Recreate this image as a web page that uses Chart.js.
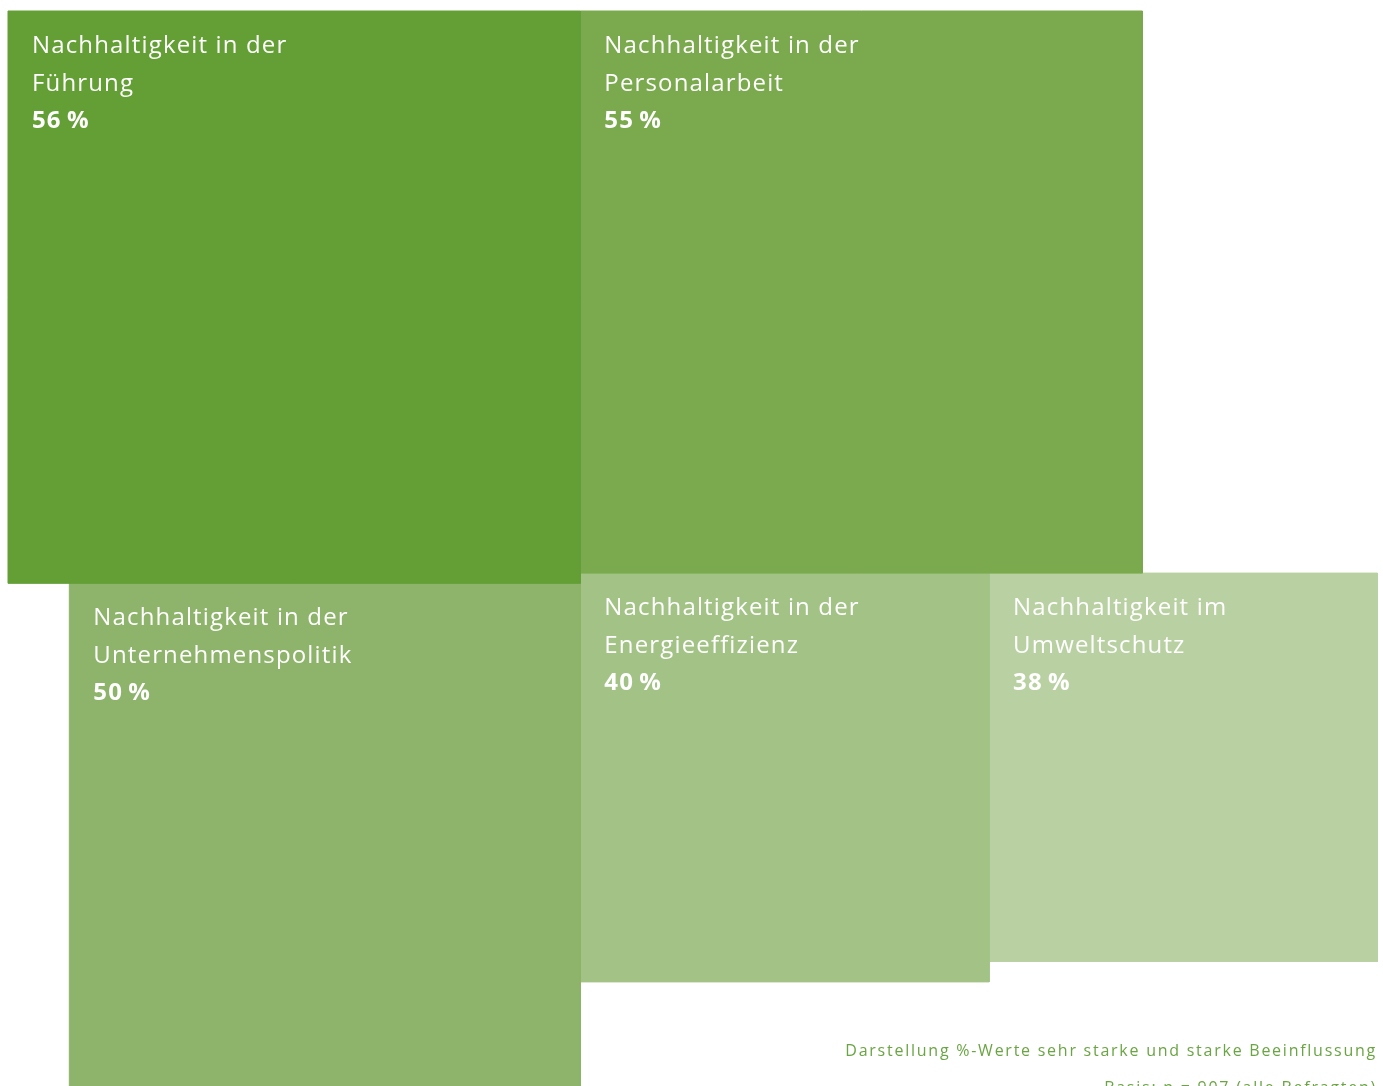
<!DOCTYPE html>
<html>
<head>
<meta charset="utf-8">
<script src="https://cdn.jsdelivr.net/npm/chart.js@4.4.1/dist/chart.umd.min.js"></script>
<style>
    html, body { margin: 0; padding: 0; background: #ffffff; overflow: hidden; }
    #wrap { position: relative; width: 1383px; height: 1086px; }
    #note {
        position: absolute; right: 6px; top: 1032px;
        font-family: "Open Sans", sans-serif; font-size: 16px; line-height: 37px;
        color: #6aa543; text-align: right; letter-spacing: 1.75px;
    }
</style>
</head>
<body>
<div id="wrap">
    <canvas id="chart-area"></canvas>
    <div id="note">Darstellung %-Werte sehr starke und starke Beeinflussung<br>Basis: n = 907 (alle Befragten)</div>
</div>
<script>
// topics and their share of "sehr stark / stark"
var topics = [
    ["Nachhaltigkeit in der", "Führung"],
    ["Nachhaltigkeit in der", "Personalarbeit"],
    ["Nachhaltigkeit in der", "Unternehmenspolitik"],
    ["Nachhaltigkeit in der", "Energieeffizienz"],
    ["Nachhaltigkeit im", "Umweltschutz"]
];
var shares = [56, 55, 50, 40, 38];
var boxColors = ['#649f36', '#7aaa4d', '#8eb36a', '#a3c386', '#b9d1a2'];

// square side = share; place them around the biggest one
function layout() {
    var s = shares;
    return [
        { left: 0, top: 0 },
        { left: s[0], top: 0 },
        { left: s[0] - s[2], top: s[0] },
        { left: s[0], top: s[1] },
        { left: s[0] + s[3], top: s[1] }
    ];
}

var pos = layout();
var datasets = shares.map(function (v, i) {
    var l = pos[i].left, t = pos[i].top;
    return {
        // closed outline of the square, filled as a shape
        data: [
            { x: l, y: t }, { x: l + v, y: t },
            { x: l + v, y: t + v }, { x: l, y: t + v },
            { x: l, y: t }
        ],
        fill: 'shape',
        backgroundColor: boxColors[i],
        borderColor: boxColors[i],
        borderWidth: 1,
        pointRadius: 0,
        tension: 0
    };
});

// text in the upper left corner of each square
var boxLabels = {
    id: 'boxLabels',
    afterDatasetsDraw: function (chart) {
        var ctx = chart.ctx;
        var x = chart.scales.x, y = chart.scales.y;
        ctx.save();
        ctx.fillStyle = '#ffffff';
        ctx.textBaseline = 'alphabetic';
        ctx.letterSpacing = '1.15px';
        shares.forEach(function (v, i) {
            var px = x.getPixelForValue(pos[i].left) + 24;
            var py = y.getPixelForValue(pos[i].top) + 42;
            ctx.font = '24px "Open Sans"';
            topics[i].forEach(function (line, j) {
                ctx.fillText(line, px, py + j * 37.5);
            });
            ctx.font = 'bold 24px "Open Sans"';
            ctx.fillText(v + '\u2009%', px, py + topics[i].length * 37.5);
        });
        ctx.restore();
    }
};

var k = 10.22;
var config = {
    type: 'line',
    data: { datasets: datasets },
    options: {
        responsive: true,
        maintainAspectRatio: false,
        animation: false,
        layout: { padding: 0 },
        plugins: {
            legend: { display: false },
            tooltip: { enabled: false }
        },
        scales: {
            x: { type: 'linear', display: false, min: -8 / k, max: -8 / k + 1383 / k },
            y: { type: 'linear', display: false, reverse: true, min: -11 / k, max: -11 / k + 1086 / k }
        }
    },
    plugins: [boxLabels]
};

window.onload = function () {
    document.getElementById('chart-area').parentNode.style.height = '1086px';
    var ctx = document.getElementById('chart-area').getContext('2d');
    window.myBoxes = new Chart(ctx, config);
};
</script>
</body>
</html>
